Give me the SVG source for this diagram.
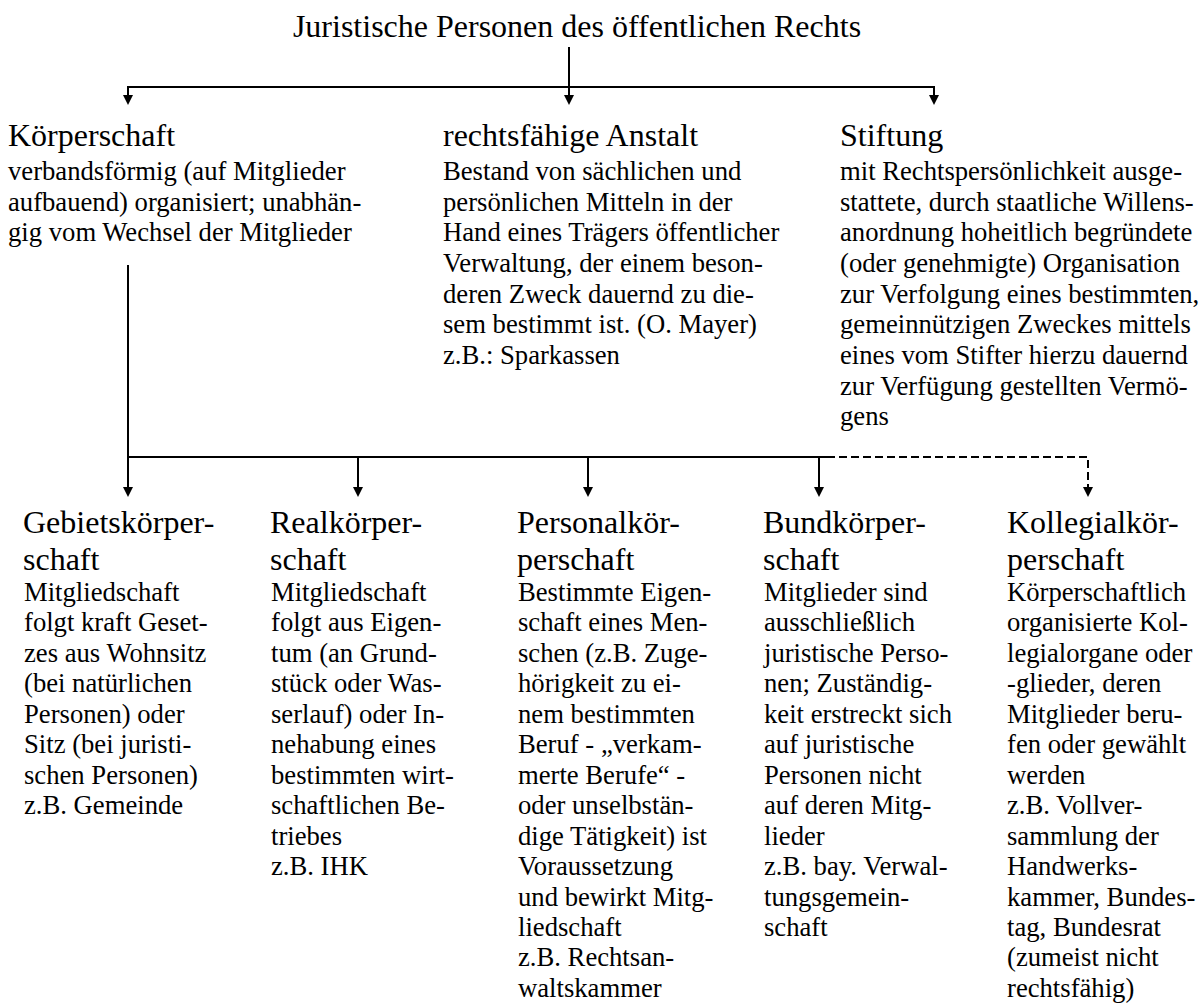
<svg xmlns="http://www.w3.org/2000/svg" width="1203" height="1004" viewBox="0 0 1203 1004">
  <style>
    text { font-family: "Liberation Serif", "Times New Roman", serif; fill: #000; }
    .title { font-size: 32px; }
    .head { font-size: 32px; }
    .body { font-size: 26.67px; }
    .line { stroke: #000; stroke-width: 2; fill: none; }
    .dash { stroke-dasharray: 8 4; }
    .arrow { marker-end: url(#arrowhead); }
  </style>
  <defs>
    <marker id="arrowhead" viewBox="0 0 10 10" refX="0" refY="5" markerWidth="10" markerHeight="10" markerUnits="userSpaceOnUse" orient="auto">
      <path d="M0,0 L10,5 L0,10 z" fill="#000"/>
    </marker>
  </defs>
  <rect width="1203" height="1004" fill="#fff"/>

  <g id="connectors">
    <!-- top level: root to the three kinds -->
    <line class="line arrow" x1="569" y1="47" x2="569" y2="95"/>
    <polyline class="line" points="128,95 128,87 934,87 934,95"/>
    <line class="line arrow" x1="128" y1="87" x2="128" y2="95"/>
    <line class="line arrow" x1="934" y1="87" x2="934" y2="95"/>
    <!-- Körperschaft to its subtypes -->
    <line class="line" x1="128" y1="265" x2="128" y2="457"/>
    <line class="line" x1="127" y1="457" x2="827" y2="457"/>
    <line class="line arrow" x1="128" y1="457" x2="128" y2="487"/>
    <line class="line arrow" x1="358" y1="457" x2="358" y2="487"/>
    <line class="line arrow" x1="588" y1="457" x2="588" y2="487"/>
    <line class="line arrow" x1="819" y1="457" x2="819" y2="487"/>
    <polyline class="line dash arrow" points="827,457 1088,457 1088,487"/>
  </g>

  <g id="root">
    <text class="title" x="577" y="37" text-anchor="middle">Juristische Personen des öffentlichen Rechts</text>
  </g>

  <g id="koerperschaft">
    <text class="head" x="8" y="146">Körperschaft</text>
    <text class="body" x="8">
      <tspan x="8" y="180">verbandsförmig (auf Mitglieder</tspan>
      <tspan x="8" y="210.67">aufbauend) organisiert; unabhän-</tspan>
      <tspan x="8" y="241.33">gig vom Wechsel der Mitglieder</tspan>
    </text>
  </g>

  <g id="anstalt">
    <text class="head" x="443" y="146">rechtsfähige Anstalt</text>
    <text class="body">
      <tspan x="443" y="180">Bestand von sächlichen und</tspan>
      <tspan x="443" y="210.67">persönlichen Mitteln in der</tspan>
      <tspan x="443" y="241.33">Hand eines Trägers öffentlicher</tspan>
      <tspan x="443" y="272">Verwaltung, der einem beson-</tspan>
      <tspan x="443" y="302.67">deren Zweck dauernd zu die-</tspan>
      <tspan x="443" y="333.33">sem bestimmt ist. (O. Mayer)</tspan>
      <tspan x="443" y="364">z.B.: Sparkassen</tspan>
    </text>
  </g>

  <g id="stiftung">
    <text class="head" x="840" y="146">Stiftung</text>
    <text class="body">
      <tspan x="840" y="180">mit Rechtspersönlichkeit ausge-</tspan>
      <tspan x="840" y="210.67">stattete, durch staatliche Willens-</tspan>
      <tspan x="840" y="241.33">anordnung hoheitlich begründete</tspan>
      <tspan x="840" y="272">(oder genehmigte) Organisation</tspan>
      <tspan x="840" y="302.67">zur Verfolgung eines bestimmten,</tspan>
      <tspan x="840" y="333.33">gemeinnützigen Zweckes mittels</tspan>
      <tspan x="840" y="364">eines vom Stifter hierzu dauernd</tspan>
      <tspan x="840" y="394.67">zur Verfügung gestellten Vermö-</tspan>
      <tspan x="840" y="425.33">gens</tspan>
    </text>
  </g>

  <g id="gebietskoerperschaft">
    <text class="head">
      <tspan x="23" y="533">Gebietskörper-</tspan>
      <tspan x="23" y="569.5">schaft</tspan>
    </text>
    <text class="body">
      <tspan x="24" y="601">Mitgliedschaft</tspan>
      <tspan x="24" y="631.45">folgt kraft Geset-</tspan>
      <tspan x="24" y="661.9">zes aus Wohnsitz</tspan>
      <tspan x="24" y="692.35">(bei natürlichen</tspan>
      <tspan x="24" y="722.8">Personen) oder</tspan>
      <tspan x="24" y="753.25">Sitz (bei juristi-</tspan>
      <tspan x="24" y="783.7">schen Personen)</tspan>
      <tspan x="24" y="814.15">z.B. Gemeinde</tspan>
    </text>
  </g>

  <g id="realkoerperschaft">
    <text class="head">
      <tspan x="270" y="533">Realkörper-</tspan>
      <tspan x="270" y="569.5">schaft</tspan>
    </text>
    <text class="body">
      <tspan x="271" y="601">Mitgliedschaft</tspan>
      <tspan x="271" y="631.45">folgt aus Eigen-</tspan>
      <tspan x="271" y="661.9">tum (an Grund-</tspan>
      <tspan x="271" y="692.35">stück oder Was-</tspan>
      <tspan x="271" y="722.8">serlauf) oder In-</tspan>
      <tspan x="271" y="753.25">nehabung eines</tspan>
      <tspan x="271" y="783.7">bestimmten wirt-</tspan>
      <tspan x="271" y="814.15">schaftlichen Be-</tspan>
      <tspan x="271" y="844.6">triebes</tspan>
      <tspan x="271" y="875.05">z.B. IHK</tspan>
    </text>
  </g>

  <g id="personalkoerperschaft">
    <text class="head">
      <tspan x="517" y="533">Personalkör-</tspan>
      <tspan x="517" y="569.5">perschaft</tspan>
    </text>
    <text class="body">
      <tspan x="518" y="601">Bestimmte Eigen-</tspan>
      <tspan x="518" y="631.45">schaft eines Men-</tspan>
      <tspan x="518" y="661.9">schen (z.B. Zuge-</tspan>
      <tspan x="518" y="692.35">hörigkeit zu ei-</tspan>
      <tspan x="518" y="722.8">nem bestimmten</tspan>
      <tspan x="518" y="753.25">Beruf - „verkam-</tspan>
      <tspan x="518" y="783.7">merte Berufe“ -</tspan>
      <tspan x="518" y="814.15">oder unselbstän-</tspan>
      <tspan x="518" y="844.6">dige Tätigkeit) ist</tspan>
      <tspan x="518" y="875.05">Voraussetzung</tspan>
      <tspan x="518" y="905.5">und bewirkt Mitg-</tspan>
      <tspan x="518" y="935.95">liedschaft</tspan>
      <tspan x="518" y="966.4">z.B. Rechtsan-</tspan>
      <tspan x="518" y="996.85">waltskammer</tspan>
    </text>
  </g>

  <g id="bundkoerperschaft">
    <text class="head">
      <tspan x="763" y="533">Bundkörper-</tspan>
      <tspan x="763" y="569.5">schaft</tspan>
    </text>
    <text class="body">
      <tspan x="764" y="601">Mitglieder sind</tspan>
      <tspan x="764" y="631.45">ausschließlich</tspan>
      <tspan x="764" y="661.9">juristische Perso-</tspan>
      <tspan x="764" y="692.35">nen; Zuständig-</tspan>
      <tspan x="764" y="722.8">keit erstreckt sich</tspan>
      <tspan x="764" y="753.25">auf juristische</tspan>
      <tspan x="764" y="783.7">Personen nicht</tspan>
      <tspan x="764" y="814.15">auf deren Mitg-</tspan>
      <tspan x="764" y="844.6">lieder</tspan>
      <tspan x="764" y="875.05">z.B. bay. Verwal-</tspan>
      <tspan x="764" y="905.5">tungsgemein-</tspan>
      <tspan x="764" y="935.95">schaft</tspan>
    </text>
  </g>

  <g id="kollegialkoerperschaft">
    <text class="head">
      <tspan x="1007" y="533">Kollegialkör-</tspan>
      <tspan x="1007" y="569.5">perschaft</tspan>
    </text>
    <text class="body">
      <tspan x="1007" y="601">Körperschaftlich</tspan>
      <tspan x="1007" y="631.45">organisierte Kol-</tspan>
      <tspan x="1007" y="661.9">legialorgane oder</tspan>
      <tspan x="1007" y="692.35">-glieder, deren</tspan>
      <tspan x="1007" y="722.8">Mitglieder beru-</tspan>
      <tspan x="1007" y="753.25">fen oder gewählt</tspan>
      <tspan x="1007" y="783.7">werden</tspan>
      <tspan x="1007" y="814.15">z.B. Vollver-</tspan>
      <tspan x="1007" y="844.6">sammlung der</tspan>
      <tspan x="1007" y="875.05">Handwerks-</tspan>
      <tspan x="1007" y="905.5">kammer, Bundes-</tspan>
      <tspan x="1007" y="935.95">tag, Bundesrat</tspan>
      <tspan x="1007" y="966.4">(zumeist nicht</tspan>
      <tspan x="1007" y="996.85">rechtsfähig)</tspan>
    </text>
  </g>
</svg>
